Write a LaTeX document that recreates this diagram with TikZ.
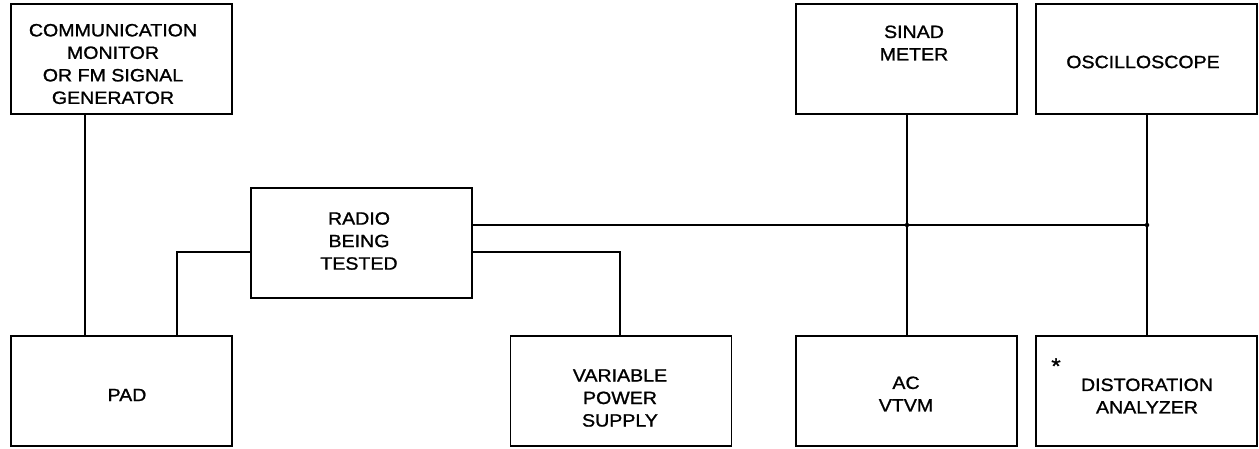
\documentclass[tikz,border=0pt]{standalone}
\usepackage{fontspec}
\newfontfamily\lblfont[FakeStretch=1.1,FakeBold=1.2]{Liberation Sans}
\begin{document}
\begin{tikzpicture}[x=1pt,y=-1pt,
  box/.style={draw,line width=1.3pt,minimum width=221pt,minimum height=110pt,inner sep=0pt},
  lbl/.style={align=center,font=\lblfont\fontsize{17.8}{22.5}\selectfont,inner sep=0pt},
  wire/.style={line width=1.3pt},
  dot/.style={circle,fill,inner sep=0pt,minimum size=4.5pt}]
\useasboundingbox (0,0) rectangle (1259,449);
% boxes
\node[box] (comm) at (121.5,59) {};
\node[box] (pad) at (121.5,391) {};
\node[box] (radio) at (361.5,243) {};
\node[box] (vps) at (621,391) {};
\node[box] (sinad) at (906.5,59) {};
\node[box] (osc) at (1146.5,59) {};
\node[box] (vtvm) at (906.5,391) {};
\node[box] (dist) at (1146.5,391) {};
% labels
\node[lbl] (tcomm) at (113,64) {COMMUNICATION\\MONITOR\\OR FM SIGNAL\\GENERATOR};
\node[lbl] (tpad) at (127,395) {PAD};
\node[lbl] (tradio) at (359,241) {RADIO\\BEING\\TESTED};
\node[lbl] (tvps) at (620,398) {VARIABLE\\POWER\\SUPPLY};
\node[lbl] (tsinad) at (914,43) {SINAD\\METER};
\node[lbl] (tosc) at (1143,62) {OSCILLOSCOPE};
\node[lbl] (tvtvm) at (906,394) {AC\\VTVM};
\node[lbl] (tdist) at (1147,396) {DISTORATION\\ANALYZER};
\node[lbl,font=\lblfont\fontsize{22}{22}\selectfont] (star) at (1056,366) {*};
% junctions
\coordinate (c1) at (85,0);
\coordinate (rl) at (177,252);
\coordinate (rr) at (620,252);
\coordinate (j1) at (907,225);
\coordinate (j2) at (1147,225);
% wires
\draw[wire] (comm.south -| c1) -- (pad.north -| c1);
\draw[wire] (radio.west |- rl) -- (rl) -- (pad.north -| rl);
\draw[wire] (radio.east |- rr) -- (rr) -- (vps.north -| rr);
\draw[wire] (radio.east |- j1) -- (j2);
\draw[wire] (sinad.south -| j1) -- (vtvm.north -| j1);
\draw[line width=2.8pt] (osc.south -| j2) -- (j2);
\draw[wire] (j2) -- (dist.north -| j2);
\node[dot] (d1) at (j1) {};
\node[dot] (d2) at (j2) {};
\end{tikzpicture}
\end{document}
